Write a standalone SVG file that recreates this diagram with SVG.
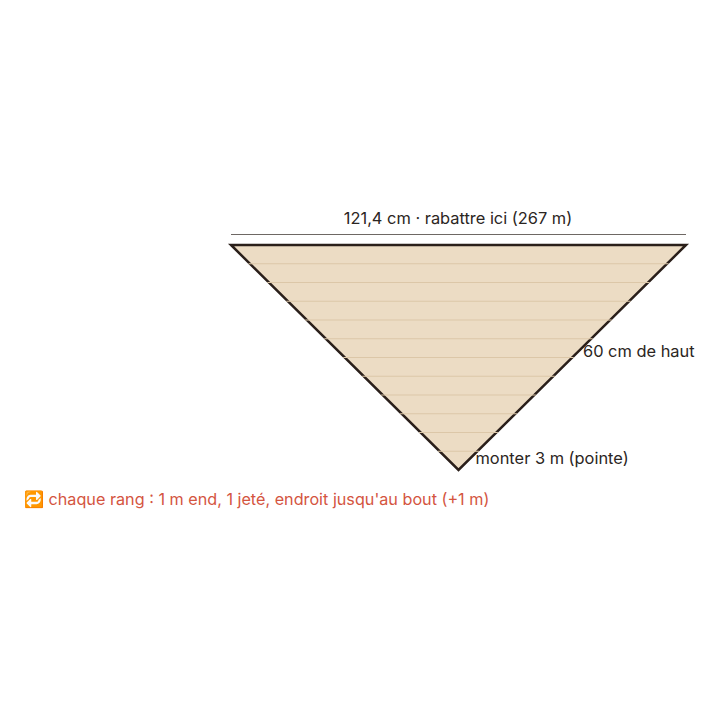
<svg xmlns="http://www.w3.org/2000/svg" width="720" height="720" viewBox="0 0 720 720">
<style>
.t{font-family:Inter,"Noto Sans","DejaVu Sans",sans-serif;font-size:16.4px;fill:#2b2522}
.n{font-family:Inter,"Noto Sans","DejaVu Sans",sans-serif;font-size:16.2px;fill:#d4553f}
.row{stroke:#dcc7a8;stroke-width:1}
</style>
<rect width="720" height="720" fill="#ffffff"/>
<g id="shawl">
<polygon points="231,245 686,245 458.5,470" fill="#ecdcc4" stroke="#2a1f1a" stroke-width="2.5" stroke-linejoin="miter"/>
</g>
<g id="rows">
<line class="row" x1="248.5" y1="263.75" x2="668.5" y2="263.75"/>
<line class="row" x1="267.4" y1="282.5" x2="649.6" y2="282.5"/>
<line class="row" x1="286.4" y1="301.25" x2="630.6" y2="301.25"/>
<line class="row" x1="305.3" y1="320" x2="611.7" y2="320"/>
<line class="row" x1="324.3" y1="338.75" x2="592.7" y2="338.75"/>
<line class="row" x1="343.3" y1="357.5" x2="573.7" y2="357.5"/>
<line class="row" x1="362.2" y1="376.25" x2="554.8" y2="376.25"/>
<line class="row" x1="381.2" y1="395" x2="535.8" y2="395"/>
<line class="row" x1="400.1" y1="413.75" x2="516.9" y2="413.75"/>
<line class="row" x1="419.1" y1="432.5" x2="497.9" y2="432.5"/>
<line class="row" x1="438" y1="451.25" x2="479" y2="451.25"/>
</g>
<g id="connectors">
<line x1="231" y1="234.5" x2="686" y2="234.5" stroke="#6e6864" stroke-width="1"/>
</g>
<g id="labels">
<text class="t" x="458" y="224" text-anchor="middle">121,4 cm · rabattre ici (267 m)</text>
<text class="t" x="583" y="357">60 cm de haut</text>
<text class="t" x="475.5" y="464">monter 3 m (pointe)</text>
<text class="n" x="24" y="505">🔁 chaque rang : 1 m end, 1 jeté, endroit jusqu'au bout (+1 m)</text>
</g>
</svg>
